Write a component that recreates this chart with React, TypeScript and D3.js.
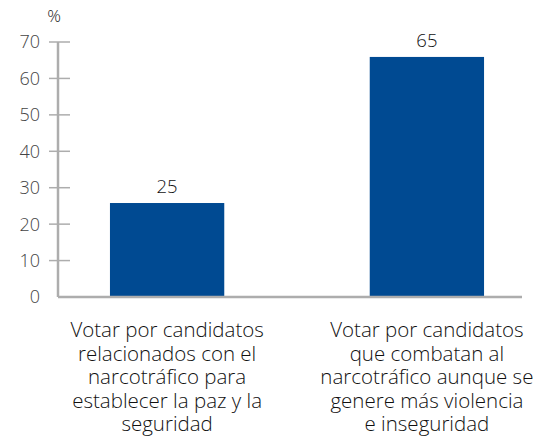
import React from 'react';
import * as d3 from 'd3';

// categories (wrapped as in the source)
const categories = [
  ['Votar por candidatos', 'relacionados con el', 'narcotráfico para', 'establecer la paz y la', 'seguridad'],
  ['Votar por candidatos', 'que combatan al', 'narcotráfico aunque se', 'genere más violencia', 'e inseguridad'],
];
const values = [25.8, 65.9];
const valueLabels = ['25', '65'];
const yTicks = [0, 10, 20, 30, 40, 50, 60, 70];

const W = 539;
const H = 446;
const BAR = '#004a92';
const AXIS = '#adadad';
const FONT = '"Open Sans", "Noto Sans", sans-serif';

const App: React.FC = () => {
  const x0 = 58;
  const xEnd = 522;
  const y = d3.scaleLinear().domain([0, 70]).range([297, 42]);
  const x = d3.scaleBand<number>()
    .domain(categories.map((_, i) => i))
    .range([x0, 536])
    .paddingInner(0.56)
    .paddingOuter(0.2);

  return (
    <svg width={W} height={H} style={{ position: 'absolute', left: 0, top: 0 }} fontFamily={FONT} fontWeight={300}>
      {/* y axis */}
      <line x1={x0} x2={x0} y1={y(70)} y2={y(0)} stroke={AXIS} strokeWidth={2.5} />
      {yTicks.map(t => (
        <g key={t}>
          {t > 0 && <line x1={x0 - 9} x2={x0 + 12} y1={y(t)} y2={y(t)} stroke={AXIS} strokeWidth={1.5} />}
          <text x={40} y={y(t)} dy="0.36em" textAnchor="end" fontSize={18} fill="#444">{t}</text>
        </g>
      ))}
      <text x={54} y={22} textAnchor="middle" fontSize={17} fill="#222">%</text>

      {/* bars */}
      {values.map((v, i) => (
        <g key={i}>
          <rect x={x(i)} y={y(v)} width={x.bandwidth()} height={y(0) - y(v) + 1} fill={BAR} />
          <text x={(x(i) ?? 0) + x.bandwidth() / 2} y={y(v) - 10} textAnchor="middle" fontSize={18.5} fill="#111">
            {valueLabels[i]}
          </text>
        </g>
      ))}

      {/* x axis */}
      <line x1={x0} x2={xEnd} y1={y(0)} y2={y(0)} stroke={AXIS} strokeWidth={2.5} />

      {/* category labels */}
      {categories.map((lines, i) => (
        <text key={i} textAnchor="middle" fontSize={20.5} fontWeight={350} fill="#111">
          {lines.map((l, j) => (
            <tspan key={j} x={(x(i) ?? 0) + x.bandwidth() / 2} y={337 + j * 23.5}>{l}</tspan>
          ))}
        </text>
      ))}
    </svg>
  );
};

export default App;
